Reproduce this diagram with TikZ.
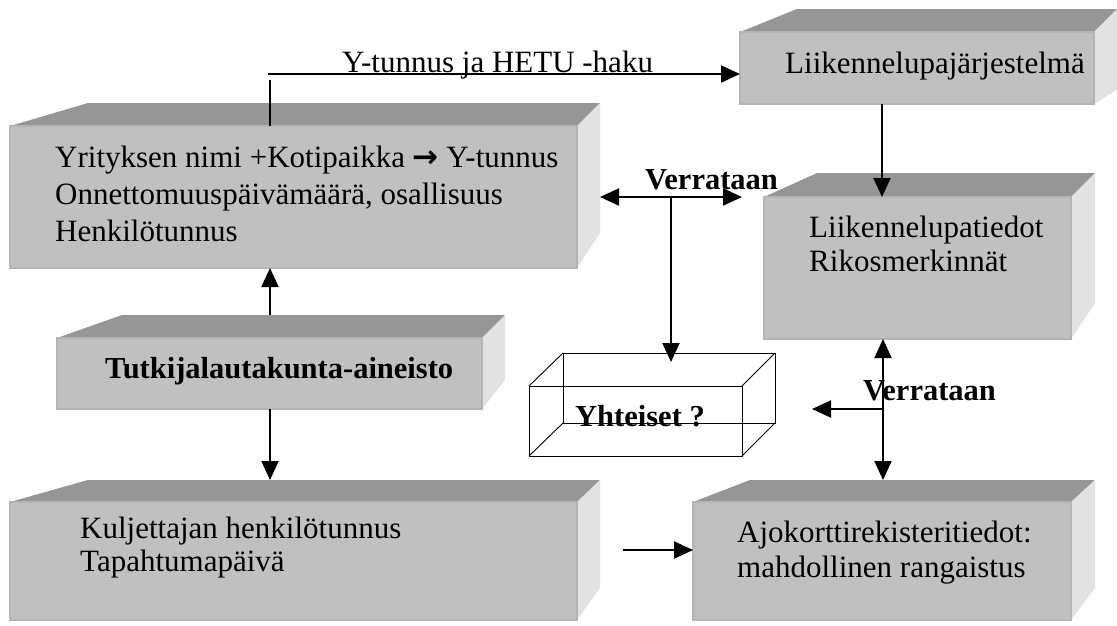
\documentclass[tikz,border=0pt]{standalone}
\usepackage{fontspec}
\setmainfont{Liberation Serif}
\newfontfamily\symfont{DejaVu Sans}
\usetikzlibrary{arrows.meta}
\definecolor{frontc}{RGB}{192,192,192}
\definecolor{topc}{RGB}{150,150,150}
\definecolor{sidec}{RGB}{226,226,226}
\definecolor{edgec}{RGB}{180,180,180}
\begin{document}
\begin{tikzpicture}[x=1pt,y=-1pt,
 face/.style={fill=frontc, draw=edgec, line width=1.2pt, inner sep=0pt, outer sep=0pt, anchor=north west},
 topface/.style={fill=topc},
 sideface/.style={fill=sidec},
 txt/.style={anchor=base west, inner sep=0pt, font=\fontsize{31}{36}\selectfont},
 btxt/.style={anchor=base west, inner sep=0pt, font=\fontsize{30.5}{36}\selectfont\bfseries},
 bigtip/.tip={Triangle[length=19pt,width=17pt]},
 conn/.style={line width=2pt, -bigtip},
 dconn/.style={line width=2pt, bigtip-bigtip},
 plainline/.style={line width=2pt},
 wire/.style={line width=0.9pt}
]
\useasboundingbox (0,0) rectangle (1117,625);

% ---------- Box A ----------
\fill[topface] (10,126) -- (577,126) -- (600,103) -- (88,103) -- cycle;
\fill[sideface] (577,126) -- (600,103) -- (600,233) -- (577,268) -- cycle;
\node[face, minimum width=567pt, minimum height=142pt] (A) at (10,126) {};
% ---------- Box B ----------
\fill[topface] (740,32) -- (1094,32) -- (1117,9) -- (797,9) -- cycle;
\fill[sideface] (1094,32) -- (1117,9) -- (1117,90) -- (1094,104) -- cycle;
\node[face, minimum width=354pt, minimum height=72pt] (B) at (740,32) {};
% ---------- Box C ----------
\fill[topface] (764,197) -- (1071,197) -- (1095,173) -- (817,173) -- cycle;
\fill[sideface] (1071,197) -- (1095,173) -- (1095,303) -- (1071,339) -- cycle;
\node[face, minimum width=307pt, minimum height=142pt] (C) at (764,197) {};
% ---------- Box D ----------
\fill[topface] (57,338) -- (482,338) -- (505,315) -- (122,315) -- cycle;
\fill[sideface] (482,338) -- (505,315) -- (505,380) -- (482,409) -- cycle;
\node[face, minimum width=425pt, minimum height=71pt] (D) at (57,338) {};
% ---------- Box E ----------
\fill[topface] (10,502) -- (577,502) -- (600,480) -- (88,480) -- cycle;
\fill[sideface] (577,502) -- (600,480) -- (600,588) -- (577,620) -- cycle;
\node[face, minimum width=567pt, minimum height=118pt] (E) at (10,502) {};
% ---------- Box F ----------
\fill[topface] (693,502) -- (1071,502) -- (1095,480) -- (750,480) -- cycle;
\fill[sideface] (1071,502) -- (1095,480) -- (1095,588) -- (1071,620) -- cycle;
\node[face, minimum width=378pt, minimum height=118pt] (F) at (693,502) {};

% ---------- texts ----------
\node[txt] (ta1) at (55,167) {Yrityksen nimi +Kotipaikka {\symfont\bfseries →} Y-tunnus};
\node[txt] (ta2) at (55,204) {Onnettomuuspäivämäärä, osallisuus};
\node[txt] (ta3) at (55,241) {Henkilötunnus};
\node[txt] (tb) at (785,73) {Liikennelupajärjestelmä};
\node[txt] (tc1) at (809,237) {Liikennelupatiedot};
\node[txt] (tc2) at (809,271) {Rikosmerkinnät};
\node[btxt] (td) at (105,378) {Tutkijalautakunta-aineisto};
\node[txt] (te1) at (80,538) {Kuljettajan henkilötunnus};
\node[txt] (te2) at (80,571) {Tapahtumapäivä};
\node[txt] (tf1) at (737,542) {Ajokorttirekisteritiedot:};
\node[txt] (tf2) at (737,577) {mahdollinen rangaistus};
\node[btxt] (tw) at (575,426) {Yhteiset ?};

% ---------- wireframe box ----------
\coordinate (w1) at (529,386); \coordinate (w2) at (742,386);
\coordinate (w3) at (742,456); \coordinate (w4) at (529,456);
\coordinate (w5) at (563,353); \coordinate (w6) at (775,353);
\coordinate (w7) at (775,423); \coordinate (w8) at (563,423);
\draw[wire] (w1) -- (w2) -- (w3) -- (w4) -- cycle;
\draw[wire] (w5) -- (w6) -- (w7) -- (w8) -- cycle;
\draw[wire] (w1) -- (w5) (w2) -- (w6) (w3) -- (w7) (w4) -- (w8);

% ---------- connectors ----------
% A -> B  (Y-tunnus ja HETU -haku)
\coordinate (v0) at (270,80);
\draw[plainline] (v0) -- (v0 |- A.north);
\coordinate (h0) at (268,74);
\draw[conn] (h0) -- (h0 -| B.west);
\node[txt] (lbl1) at (342,72) {Y-tunnus ja HETU -haku};
% B -> C
\coordinate (bc) at (882,0);
\draw[conn] (bc |- B.south) -- (bc |- C.north);
% upper Verrataan
\coordinate (vl) at (600,197);
\coordinate (vr) at (742,197);
\draw[dconn] (vl) -- (vr);
\coordinate (vm) at (671,197);
\coordinate (wt) at (671,362);
\draw[conn] (vm) -- (wt);
\node[btxt] (lbl2) at (645,189) {Verrataan};
% D -> A, D -> E
\coordinate (dt) at (270,315);
\draw[conn] (dt) -- (dt |- A.south);
\coordinate (et) at (270,480);
\draw[conn] (dt |- D.south) -- (et);
% E -> F
\coordinate (ef) at (623,550);
\draw[conn] (ef) -- (ef -| F.west);
% lower Verrataan
\coordinate (ft) at (883,480);
\draw[dconn] (ft |- C.south) -- (ft);
\coordinate (lm) at (883,409);
\coordinate (ll) at (812,409);
\draw[conn] (lm) -- (ll);
\node[btxt] (lbl3) at (863,400) {Verrataan};
\end{tikzpicture}
\end{document}
